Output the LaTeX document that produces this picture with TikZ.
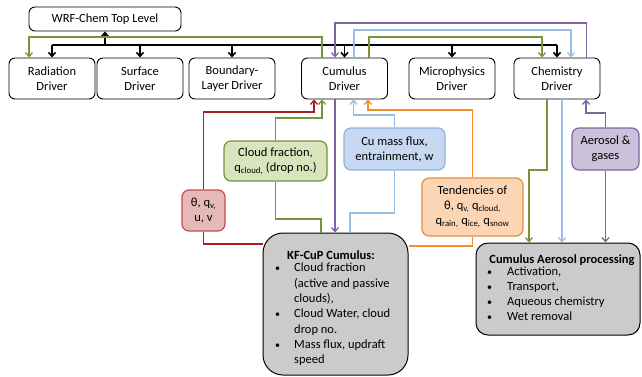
\documentclass[tikz,border=0pt]{standalone}
\usepackage{fontspec}
\setmainfont{Carlito}
\usetikzlibrary{arrows.meta}
\definecolor{gcol}{RGB}{119,147,60}
\definecolor{gfill}{RGB}{215,228,189}
\definecolor{rcol}{RGB}{170,30,30}
\definecolor{rbord}{RGB}{192,80,77}
\definecolor{rfill}{RGB}{230,185,184}
\definecolor{bcol}{RGB}{150,190,232}
\definecolor{bbord}{RGB}{142,180,227}
\definecolor{bfill}{RGB}{198,217,240}
\definecolor{ocol}{RGB}{240,145,40}
\definecolor{obord}{RGB}{228,140,60}
\definecolor{ofill}{RGB}{252,213,181}
\definecolor{pcol}{RGB}{128,100,162}
\definecolor{pfill}{RGB}{204,193,218}
\definecolor{kfill}{RGB}{203,203,203}
\newcommand{\bul}[1]{\makebox[#1][l]{\hspace*{2pt}\scalebox{0.8}{•}}}
\begin{document}
\begin{tikzpicture}[x=1pt,y=-1pt,
  font=\fontsize{12.5}{15}\selectfont,
  box/.style={draw=black, line width=0.9pt, rounded corners=6pt, align=center, inner sep=0pt, fill=white},
  drv/.style={box, minimum width=86pt, minimum height=41pt},
  cbox/.style={line width=1.2pt, rounded corners=7pt, align=center, inner sep=0pt},
  tip/.style={-{Straight Barb[length=4pt,width=7pt]}},
  blk/.style={draw=black, line width=1.6pt},
  gl/.style={draw=gcol, line width=1.3pt},
  rl/.style={draw=rcol, line width=1.3pt},
  bl/.style={draw=bcol, line width=1.3pt},
  ol/.style={draw=ocol, line width=1.3pt},
  pl/.style={draw=pcol, line width=1.3pt}]
\useasboundingbox (0,0) rectangle (642,376);

% top row
\node[box, minimum width=152pt, minimum height=24pt] (top) at (105,19) {WRF-Chem Top Level};
\node[drv] (rad) at (52,78.5) {Radiation\\Driver};
\node[drv] (surf) at (140,78.5) {Surface\\Driver};
\node[drv] (bld) at (232,78.5) {Boundary-\\Layer Driver};
\node[drv] (cum) at (344.5,78.5) {Cumulus\\Driver};
\node[drv] (mic) at (452,78.5) {Microphysics\\Driver};
\node[drv] (chem) at (557,78.5) {Chemistry\\Driver};

% coloured boxes
\node[cbox, draw=rbord, fill=rfill, minimum width=43pt, minimum height=41pt] (theta) at (203.5,210.5) {θ, q\textsubscript{v,}\\u, v};
\node[cbox, draw=gcol, fill=gfill, minimum width=103pt, minimum height=40pt] (cf) at (275.5,161) {Cloud fraction,\\q\textsubscript{cloud,} (drop no.)};
\node[cbox, draw=bbord, fill=bfill, minimum width=101pt, minimum height=42pt] (cu) at (394.5,149) {Cu mass flux,\\entrainment, w};
\node[cbox, draw=obord, fill=ofill, minimum width=101pt, minimum height=58pt] (tend) at (472.5,207) {Tendencies of\\θ, q\textsubscript{v,} q\textsubscript{cloud,}\\q\textsubscript{rain,} q\textsubscript{ice,} q\textsubscript{snow}};
\node[cbox, draw=pcol, fill=pfill, minimum width=67pt, minimum height=42pt] (aer) at (605.5,149) {Aerosol \&\\gases};

% grey boxes
\node[draw=black, line width=1pt, fill=kfill, rounded corners=20pt, minimum width=145pt, minimum height=142pt, inner sep=0pt] (kf) at (335.5,304) {};
\node[font=\fontsize{12.5}{15}\selectfont\bfseries, inner sep=0pt] (kft) at (331,255) {KF-CuP Cumulus:};
\node[anchor=north west, align=left, inner sep=0pt, font=\fontsize{12.5}{15.3}\selectfont] (kfl) at (273,263) {%
\bul{21pt}Cloud fraction\\
\hspace*{21pt}(active and passive\\
\hspace*{21pt}clouds),\\
\bul{21pt}Cloud Water, cloud\\
\hspace*{21pt}drop no.\\
\bul{21pt}Mass flux, updraft\\
\hspace*{21pt}speed};

\node[draw=black, line width=1pt, fill=kfill, rounded corners=12pt, minimum width=164pt, minimum height=92pt, inner sep=0pt] (cap) at (558,289) {};
\node[font=\fontsize{12.5}{15}\selectfont\bfseries, inner sep=0pt] (capt) at (562,260) {Cumulus Aerosol processing};
\node[anchor=north west, align=left, inner sep=0pt] (capl) at (485,267) {%
\bul{22pt}Activation,\\
\bul{22pt}Transport,\\
\bul{22pt}Aqueous chemistry\\
\bul{22pt}Wet removal};

% black distribution bar
\draw[blk] (rad.north |- 0,45) -- (chem.north |- 0,45);
\draw[blk, {Straight Barb[length=4pt,width=7pt]}-] (top.south) -- (top.south |- 0,45);
\foreach \n in {rad,surf,bld,cum,mic,chem}
  \draw[blk, tip] (\n.north |- 0,45) -- (\n.north);

% top connectors
\draw[gl,tip] ([xshift=-22.5pt]cum.north) |- (29,37) -- ([xshift=-23pt]rad.north);
\draw[pl,tip] ([xshift=29.5pt]chem.north) |- (335,23) -- ([xshift=-9.5pt]cum.north);
\draw[bl,tip] ([xshift=9.5pt]cum.north) |- (571,30) -- ([xshift=14pt]chem.north);
\draw[gl,tip] ([xshift=24.5pt]cum.north) |- (542,37) -- ([xshift=-15pt]chem.north);

% below cumulus
\draw[rl,tip] (theta.north) |- (314,112) -- ([xshift=-30.5pt]cum.south);
\draw[rl] (theta.south) |- (kf.west |- 0,244);
\draw[gl,tip] (cf.north) |- (322,118) -- ([xshift=-22.5pt]cum.south);
\draw[gl] (cf.south) |- (321,219) -- ([xshift=-14.5pt]kf.north);
\draw[bl,tip] (cu.north) |- (353.5,115) -- ([xshift=9pt]cum.south);
\draw[bl] (cu.south) |- (350,213) -- ([xshift=14.5pt]kf.north);
\draw[ol,tip] (tend.north) |- (368,110) -- ([xshift=23.5pt]cum.south);
\draw[ol] (tend.south) |- (kf.east |- 0,246);
\draw[pl,tip] ([xshift=-9.5pt]cum.south) -- ([xshift=-0.5pt]kf.north);

% below chemistry
\draw[gl,tip] ([xshift=-10pt]chem.south) |- (529,170) -- ([xshift=-29pt]cap.north);
\draw[bl,tip] ([xshift=5pt]chem.south) -- ([xshift=4pt]cap.north);
\draw[pl,tip] (aer.north) |- (586,113) -- ([xshift=29pt]chem.south);
\draw[pl,tip] (aer.south) -- (aer.south |- cap.north);
\end{tikzpicture}
\end{document}
